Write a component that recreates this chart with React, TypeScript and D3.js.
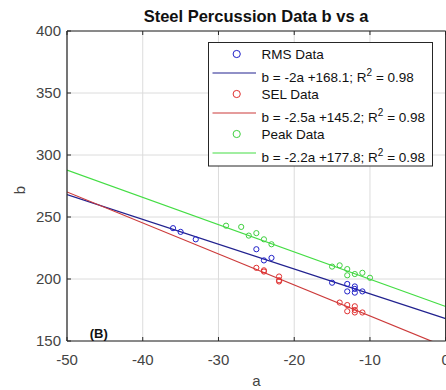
import React from "react";
import * as d3 from "d3";

// Measurements: a (x) and b (y) for each metric
const rmsA = [-36, -35, -33, -25, -24, -23, -15, -13, -13, -12, -12, -12, -11];
const rmsB = [241, 238, 232, 224, 215, 217, 197, 196, 190, 194, 192, 189, 190];

const selA = [-25, -24, -24, -22, -22, -22, -14, -13, -13, -12, -12, -12, -11];
const selB = [209, 207, 206, 202, 199, 198, 181, 179, 174, 178, 175, 173, 173];

const peakA = [-29, -27, -26, -25, -24, -23, -15, -14, -13, -13, -12, -11, -10];
const peakB = [243, 242, 235, 237, 232, 228, 210, 211, 208, 203, 204, 205, 201];

// Linear fits b = slope * a + intercept
const fitSlopes = [-2, -2.5, -2.2];
const fitIntercepts = [168.1, 145.2, 177.8];
const fitR2 = [0.98, 0.98, 0.98];

const seriesNames = ["RMS Data", "SEL Data", "Peak Data"];
const markerColors = ["#2020c8", "#e03030", "#40d040"];
const lineColors = ["#22228f", "#cc3a3a", "#44dd44"];

const xTicks = [-50, -40, -30, -20, -10, 0];
const yTicks = [150, 200, 250, 300, 350, 400];

const W = 446;
const H = 390;
const M = { left: 67, top: 31, right: 0.3, bottom: 49 };

export default function App() {
  const x = d3.scaleLinear().domain([-50, 0]).range([M.left, W - M.right]);
  const y = d3.scaleLinear().domain([150, 400]).range([H - M.bottom, M.top]);
  const font = "'Liberation Sans', Arial, sans-serif";

  const series = [
    { a: rmsA, b: rmsB },
    { a: selA, b: selB },
    { a: peakA, b: peakB },
  ];

  const fitPath = (k: number) => {
    const gen = d3
      .line<number>()
      .x((a) => x(a))
      .y((a) => y(fitSlopes[k] * a + fitIntercepts[k]));
    return gen([-50, 0]) || "";
  };

  const eqText = (k: number) =>
    `b = ${fitSlopes[k]}a +${fitIntercepts[k].toFixed(1)}; R`;

  // legend layout
  const lg = { x0: 208.5, y0: 42.5, w: 224, h: 123.5 };
  const rowY = (r: number) => lg.y0 + 11.5 + r * 20;

  return (
    <svg
      width={W}
      height={H}
      style={{ position: "absolute", left: 0, top: 0, background: "#fff" }}
      fontFamily={font}
    >
      <rect x={0} y={0} width={W} height={H} fill="#fff" />
      <defs>
        <clipPath id="plotClip">
          <rect x={M.left} y={M.top} width={x(0) - M.left} height={y(150) - M.top} />
        </clipPath>
      </defs>

      {/* grid */}
      {xTicks.map((t) => (
        <line key={"gx" + t} x1={x(t)} x2={x(t)} y1={y(150)} y2={y(400)} stroke="#dcdcdc" strokeWidth={1} />
      ))}
      {yTicks.map((t) => (
        <line key={"gy" + t} x1={x(-50)} x2={x(0)} y1={y(t)} y2={y(t)} stroke="#dcdcdc" strokeWidth={1} />
      ))}

      {/* fit lines and points */}
      <g clipPath="url(#plotClip)">
        {[0, 1, 2].map((k) => (
          <path key={"fit" + k} d={fitPath(k)} stroke={lineColors[k]} strokeWidth={1.2} fill="none" />
        ))}
        {series.map((s, k) =>
          s.a.map((a, i) => (
            <circle
              key={`p${k}-${i}`}
              cx={x(a)}
              cy={y(s.b[i])}
              r={2.6}
              fill="none"
              stroke={markerColors[k]}
              strokeWidth={1}
            />
          ))
        )}
      </g>

      {/* axes box */}
      <line x1={x(-50)} x2={x(0)} y1={y(150)} y2={y(150)} stroke="#262626" strokeWidth={1.2} />
      <line x1={x(-50)} x2={x(-50)} y1={y(150)} y2={y(400)} stroke="#262626" strokeWidth={1.2} />
      <line x1={x(-50)} x2={x(0)} y1={y(400)} y2={y(400)} stroke="#262626" strokeWidth={1.2} />
      <line x1={x(0)} x2={x(0)} y1={y(150)} y2={y(400)} stroke="#262626" strokeWidth={1.2} />
      {xTicks.map((t) => (
        <g key={"tx" + t}>
          <line x1={x(t)} x2={x(t)} y1={y(150)} y2={y(150) - 4} stroke="#262626" />
          <line x1={x(t)} x2={x(t)} y1={y(400)} y2={y(400) + 4} stroke="#262626" />
          <text x={x(t)} y={y(150) + 24} textAnchor="middle" fontSize={15} fill="#444">
            {t}
          </text>
        </g>
      ))}
      {yTicks.map((t) => (
        <g key={"ty" + t}>
          <line x1={x(-50)} x2={x(-50) + 4} y1={y(t)} y2={y(t)} stroke="#262626" />
          <text x={x(-50) - 6} y={y(t) + 5} textAnchor="end" fontSize={15} fill="#444">
            {t}
          </text>
        </g>
      ))}

      {/* axis labels and title */}
      <text x={(x(-50) + x(0)) / 2} y={386} textAnchor="middle" fontSize={15} fill="#444">
        a
      </text>
      <text
        transform={`translate(25, ${(y(150) + y(400)) / 2 + 4}) rotate(-90)`}
        textAnchor="middle"
        fontSize={15}
        fill="#444"
      >
        b
      </text>
      <text x={256} y={22} textAnchor="middle" fontSize={16.5} fontWeight="bold" fill="#111">
        Steel Percussion Data b vs a
      </text>
      <text x={x(-47)} y={y(150) - 3} fontSize={13} fontWeight="bold" fill="#111">
        (B)
      </text>

      {/* legend */}
      <rect x={lg.x0} y={lg.y0} width={lg.w} height={lg.h} fill="#fff" stroke="#262626" strokeWidth={1} />
      {[0, 1, 2].map((k) => (
        <g key={"lg" + k}>
          <circle cx={236.7} cy={rowY(2 * k)} r={3.6} fill="none" stroke={markerColors[k]} strokeWidth={1} />
          <text x={261.5} y={rowY(2 * k) + 5} fontSize={13.5} fill="#111">
            {seriesNames[k]}
          </text>
          <line x1={212.5} x2={256} y1={rowY(2 * k + 1) - 1} y2={rowY(2 * k + 1) - 1} stroke={lineColors[k]} strokeWidth={1.2} />
          <text x={261.5} y={rowY(2 * k + 1) + 8} fontSize={13.5} fill="#111">
            {eqText(k)}
            <tspan dy={-6} fontSize={10}>2</tspan>
            <tspan dy={6}>{` = ${fitR2[k].toFixed(2)}`}</tspan>
          </text>
        </g>
      ))}
    </svg>
  );
}
